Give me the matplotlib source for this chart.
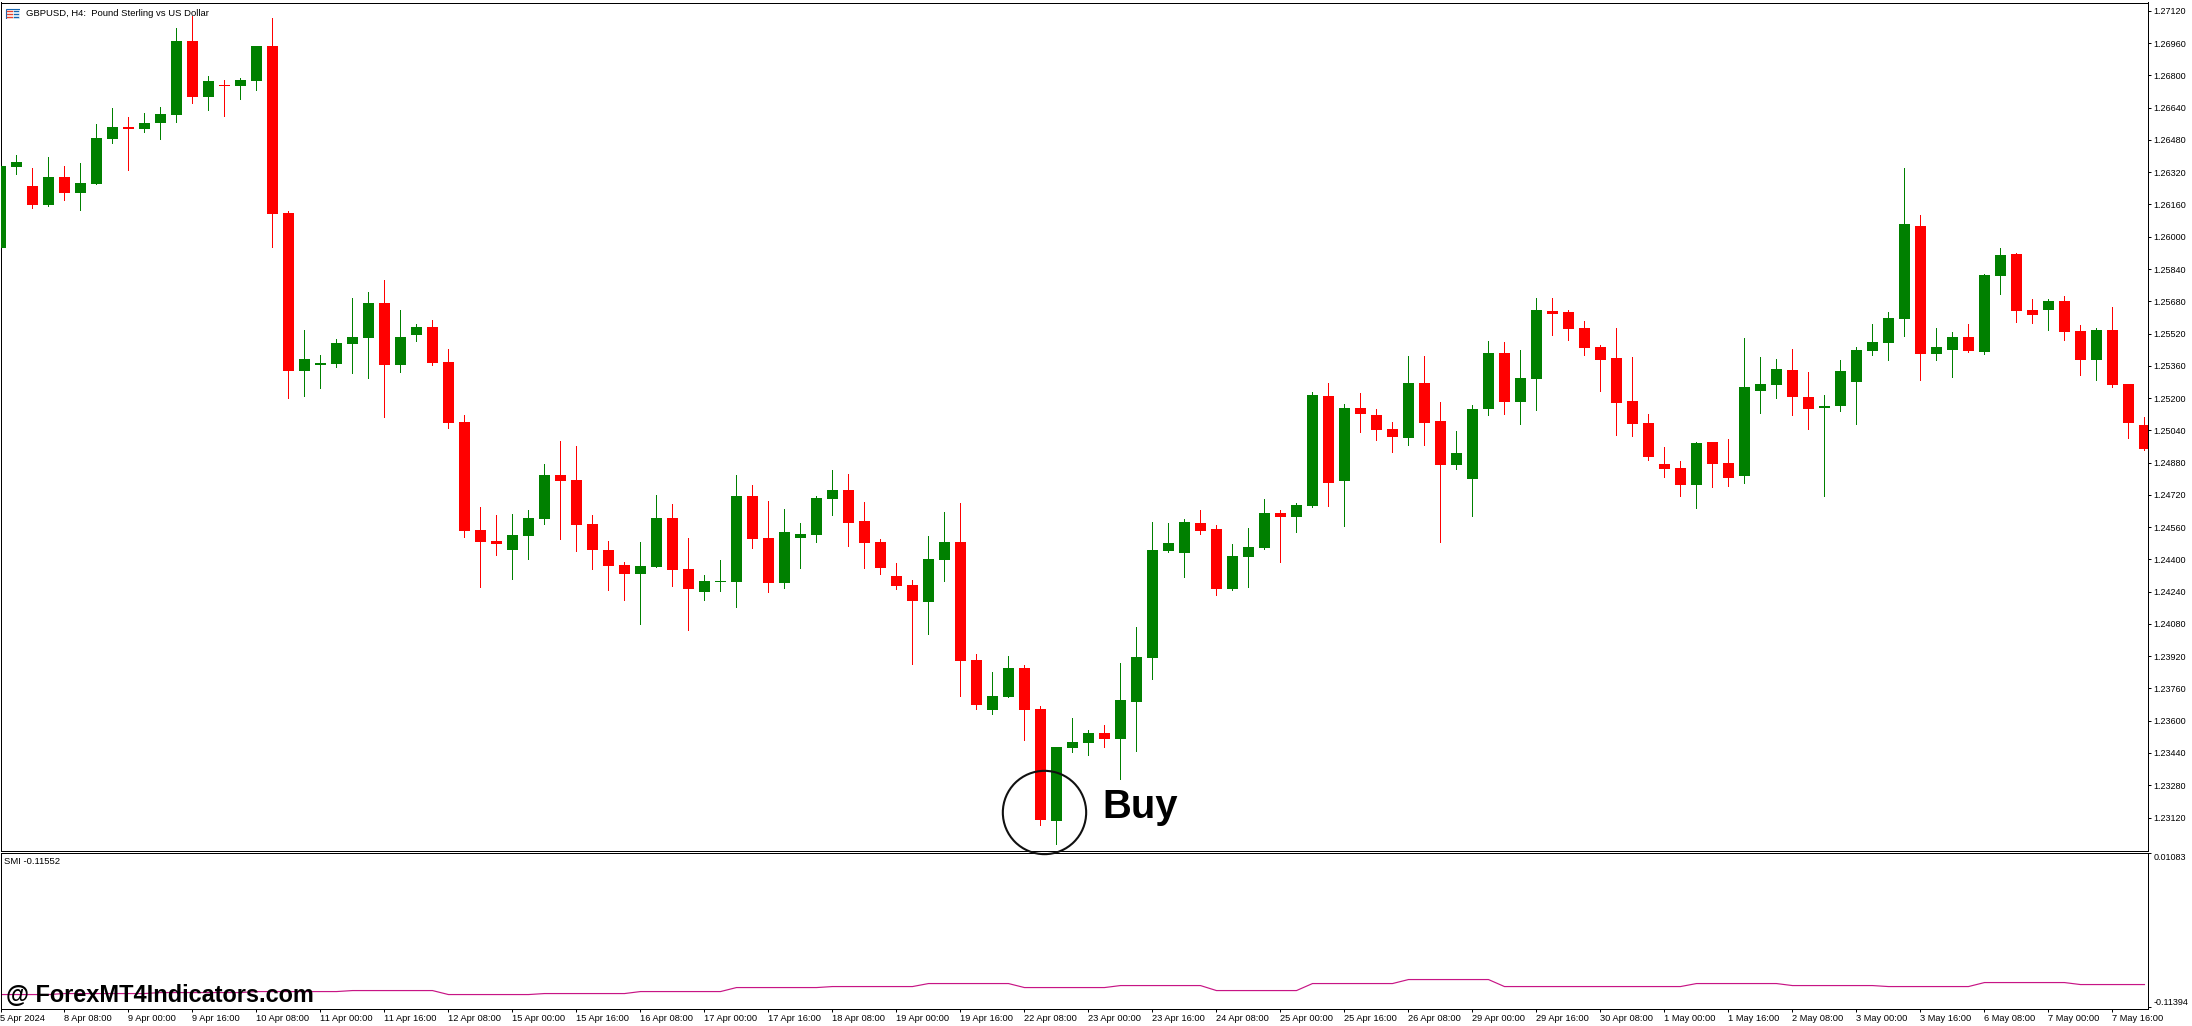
# -*- coding: utf-8 -*-
# GBPUSD H4 candles with SMI pane, MT5 style
import matplotlib
matplotlib.use('Agg')
import numpy as np
import matplotlib.pyplot as plt
from matplotlib.patches import Rectangle

plt.rcParams['font.family'] = ['Liberation Sans', 'DejaVu Sans']

opens = [
    1.25945, 1.26345, 1.26251, 1.26157, 1.26295, 1.26216, 1.26261, 1.26484, 1.26543, 1.26533,
    1.26563, 1.26603, 1.26970, 1.26692, 1.26752, 1.26747, 1.26771, 1.26945, 1.26117, 1.25334,
    1.25363, 1.25368, 1.25468, 1.25497, 1.25671, 1.25363, 1.25512, 1.25552, 1.25378, 1.25081,
    1.24546, 1.24491, 1.24446, 1.24516, 1.24600, 1.24818, 1.24794, 1.24575, 1.24446, 1.24372,
    1.24327, 1.24362, 1.24605, 1.24352, 1.24238, 1.24288, 1.24288, 1.24714, 1.24506, 1.24283,
    1.24506, 1.24521, 1.24699, 1.24744, 1.24590, 1.24486, 1.24318, 1.24273, 1.24189, 1.24397,
    1.24486, 1.23901, 1.23653, 1.23718, 1.23861, 1.23658, 1.23103, 1.23465, 1.23490, 1.23539,
    1.23509, 1.23693, 1.23911, 1.24442, 1.24432, 1.24580, 1.24551, 1.24253, 1.24412, 1.24456,
    1.24630, 1.24610, 1.24664, 1.25210, 1.24788, 1.25150, 1.25115, 1.25046, 1.25001, 1.25274,
    1.25086, 1.24868, 1.24798, 1.25145, 1.25423, 1.25180, 1.25294, 1.25631, 1.25626, 1.25547,
    1.25453, 1.25398, 1.25185, 1.25076, 1.24873, 1.24853, 1.24769, 1.24982, 1.24878, 1.24813,
    1.25235, 1.25264, 1.25339, 1.25205, 1.25150, 1.25160, 1.25279, 1.25433, 1.25473, 1.25592,
    1.26053, 1.25418, 1.25438, 1.25502, 1.25428, 1.25805, 1.25914, 1.25636, 1.25636, 1.25681,
    1.25532, 1.25388, 1.25537, 1.25269, 1.25066,
]
highs = [
    1.26350, 1.26405, 1.26340, 1.26395, 1.26350, 1.26365, 1.26558, 1.26638, 1.26593, 1.26613,
    1.26643, 1.27034, 1.27094, 1.26796, 1.26776, 1.26786, 1.26945, 1.27084, 1.26127, 1.25537,
    1.25413, 1.25492, 1.25696, 1.25725, 1.25785, 1.25636, 1.25567, 1.25587, 1.25443, 1.25115,
    1.24660, 1.24620, 1.24625, 1.24645, 1.24873, 1.24987, 1.24962, 1.24620, 1.24491, 1.24387,
    1.24486, 1.24719, 1.24675, 1.24506, 1.24323, 1.24397, 1.24818, 1.24769, 1.24689, 1.24650,
    1.24580, 1.24714, 1.24843, 1.24823, 1.24684, 1.24501, 1.24382, 1.24298, 1.24516, 1.24635,
    1.24680, 1.23931, 1.23842, 1.23921, 1.23876, 1.23673, 1.23470, 1.23614, 1.23554, 1.23579,
    1.23886, 1.24065, 1.24585, 1.24580, 1.24600, 1.24645, 1.24570, 1.24476, 1.24556, 1.24699,
    1.24645, 1.24680, 1.25229, 1.25274, 1.25170, 1.25224, 1.25145, 1.25081, 1.25408, 1.25408,
    1.25180, 1.25036, 1.25165, 1.25482, 1.25478, 1.25438, 1.25696, 1.25696, 1.25636, 1.25582,
    1.25463, 1.25547, 1.25403, 1.25121, 1.24957, 1.24888, 1.24982, 1.24982, 1.24997, 1.25497,
    1.25403, 1.25393, 1.25443, 1.25329, 1.25215, 1.25388, 1.25453, 1.25567, 1.25626, 1.26340,
    1.26107, 1.25547, 1.25527, 1.25567, 1.25815, 1.25944, 1.25919, 1.25691, 1.25691, 1.25706,
    1.25562, 1.25547, 1.25651, 1.25269, 1.25106,
]
lows = [
    1.25945, 1.26310, 1.26143, 1.26152, 1.26181, 1.26132, 1.26261, 1.26464, 1.26330, 1.26519,
    1.26484, 1.26568, 1.26662, 1.26628, 1.26598, 1.26682, 1.26727, 1.25948, 1.25200, 1.25210,
    1.25249, 1.25353, 1.25324, 1.25299, 1.25106, 1.25329, 1.25482, 1.25363, 1.25051, 1.24511,
    1.24263, 1.24422, 1.24303, 1.24402, 1.24575, 1.24501, 1.24442, 1.24352, 1.24248, 1.24199,
    1.24080, 1.24362, 1.24268, 1.24050, 1.24199, 1.24243, 1.24164, 1.24456, 1.24238, 1.24258,
    1.24357, 1.24486, 1.24620, 1.24466, 1.24357, 1.24327, 1.24253, 1.23881, 1.24030, 1.24293,
    1.23723, 1.23658, 1.23633, 1.23718, 1.23505, 1.23083, 1.22989, 1.23445, 1.23430, 1.23470,
    1.23311, 1.23450, 1.23807, 1.24437, 1.24313, 1.24526, 1.24223, 1.24248, 1.24263, 1.24451,
    1.24387, 1.24536, 1.24659, 1.24664, 1.24565, 1.25031, 1.24991, 1.24932, 1.24967, 1.24967,
    1.24486, 1.24848, 1.24615, 1.25116, 1.25121, 1.25071, 1.25140, 1.25512, 1.25487, 1.25413,
    1.25235, 1.25016, 1.25011, 1.24893, 1.24808, 1.24714, 1.24655, 1.24759, 1.24764, 1.24778,
    1.25126, 1.25200, 1.25116, 1.25046, 1.24714, 1.25135, 1.25071, 1.25413, 1.25388, 1.25507,
    1.25289, 1.25388, 1.25304, 1.25428, 1.25418, 1.25715, 1.25577, 1.25572, 1.25537, 1.25487,
    1.25314, 1.25289, 1.25254, 1.25002, 1.24942,
]
closes = [
    1.26350, 1.26370, 1.26157, 1.26295, 1.26216, 1.26266, 1.26489, 1.26543, 1.26533, 1.26563,
    1.26608, 1.26970, 1.26692, 1.26771, 1.26747, 1.26776, 1.26945, 1.26112, 1.25334, 1.25393,
    1.25373, 1.25472, 1.25502, 1.25671, 1.25363, 1.25502, 1.25552, 1.25373, 1.25076, 1.24540,
    1.24486, 1.24476, 1.24521, 1.24605, 1.24818, 1.24789, 1.24570, 1.24446, 1.24367, 1.24327,
    1.24367, 1.24605, 1.24347, 1.24253, 1.24293, 1.24293, 1.24714, 1.24501, 1.24283, 1.24536,
    1.24526, 1.24704, 1.24744, 1.24580, 1.24481, 1.24357, 1.24268, 1.24194, 1.24402, 1.24486,
    1.23896, 1.23678, 1.23723, 1.23861, 1.23653, 1.23108, 1.23470, 1.23495, 1.23539, 1.23509,
    1.23703, 1.23916, 1.24446, 1.24481, 1.24585, 1.24541, 1.24253, 1.24417, 1.24461, 1.24630,
    1.24610, 1.24670, 1.25215, 1.24778, 1.25150, 1.25120, 1.25041, 1.25006, 1.25274, 1.25076,
    1.24868, 1.24927, 1.25145, 1.25423, 1.25180, 1.25299, 1.25636, 1.25616, 1.25542, 1.25448,
    1.25388, 1.25175, 1.25071, 1.24907, 1.24848, 1.24769, 1.24977, 1.24873, 1.24803, 1.25254,
    1.25269, 1.25344, 1.25205, 1.25145, 1.25160, 1.25334, 1.25438, 1.25478, 1.25597, 1.26063,
    1.25418, 1.25453, 1.25502, 1.25433, 1.25810, 1.25909, 1.25631, 1.25611, 1.25681, 1.25527,
    1.25388, 1.25537, 1.25264, 1.25076, 1.24947,
]
smi_values = [
    -0.10392, -0.10392, -0.10392, -0.10392, -0.10311, -0.10311, -0.10311, -0.10311, -0.10311, -0.10311,
    -0.10230, -0.10230, -0.10230, -0.10230, -0.10230, -0.10230, -0.10149, -0.10149, -0.10149, -0.10149,
    -0.10149, -0.10149, -0.10068, -0.10068, -0.10068, -0.10068, -0.10068, -0.10068, -0.10392, -0.10392,
    -0.10392, -0.10392, -0.10392, -0.10392, -0.10311, -0.10311, -0.10311, -0.10311, -0.10311, -0.10311,
    -0.10149, -0.10149, -0.10149, -0.10149, -0.10149, -0.10149, -0.09824, -0.09824, -0.09824, -0.09824,
    -0.09824, -0.09824, -0.09743, -0.09743, -0.09743, -0.09743, -0.09743, -0.09743, -0.09499, -0.09499,
    -0.09499, -0.09499, -0.09499, -0.09499, -0.09824, -0.09824, -0.09824, -0.09824, -0.09824, -0.09824,
    -0.09662, -0.09662, -0.09662, -0.09662, -0.09662, -0.09662, -0.10068, -0.10068, -0.10068, -0.10068,
    -0.10068, -0.10068, -0.09499, -0.09499, -0.09499, -0.09499, -0.09499, -0.09499, -0.09174, -0.09174,
    -0.09174, -0.09174, -0.09174, -0.09174, -0.09743, -0.09743, -0.09743, -0.09743, -0.09743, -0.09743,
    -0.09743, -0.09743, -0.09743, -0.09743, -0.09743, -0.09743, -0.09499, -0.09499, -0.09499, -0.09499,
    -0.09499, -0.09499, -0.09662, -0.09662, -0.09662, -0.09662, -0.09662, -0.09662, -0.09743, -0.09743,
    -0.09743, -0.09743, -0.09743, -0.09743, -0.09418, -0.09418, -0.09418, -0.09418, -0.09418, -0.09418,
    -0.09580, -0.09580, -0.09580, -0.09580, -0.09580,
]
price_ticks = [
    1.27120, 1.26960, 1.26800, 1.26640, 1.26480, 1.26320, 1.26160, 1.26000, 1.25840,
    1.25680, 1.25520, 1.25360, 1.25200, 1.25040, 1.24880, 1.24720, 1.24560, 1.24400,
    1.24240, 1.24080, 1.23920, 1.23760, 1.23600, 1.23440, 1.23280, 1.23120,
]
smi_ticks = [0.01083, -0.11394]
time_labels = [
    '5 Apr 2024', '8 Apr 08:00', '9 Apr 00:00', '9 Apr 16:00', '10 Apr 08:00', '11 Apr 00:00',
    '11 Apr 16:00', '12 Apr 08:00', '15 Apr 00:00', '15 Apr 16:00', '16 Apr 08:00', '17 Apr 00:00',
    '17 Apr 16:00', '18 Apr 08:00', '19 Apr 00:00', '19 Apr 16:00', '22 Apr 08:00', '23 Apr 00:00',
    '23 Apr 16:00', '24 Apr 08:00', '25 Apr 00:00', '25 Apr 16:00', '26 Apr 08:00', '29 Apr 00:00',
    '29 Apr 16:00', '30 Apr 08:00', '1 May 00:00', '1 May 16:00', '2 May 08:00', '3 May 00:00',
    '3 May 16:00', '6 May 08:00', '7 May 00:00', '7 May 16:00',
]

W, H = 2192, 1026
GREEN = '#008000'
RED = '#ff0000'
PINK = '#c71585'

opens = np.array(opens)
closes = np.array(closes)
highs = np.array(highs)
lows = np.array(lows)
bars = np.arange(len(opens))
colors = [GREEN if c >= o else RED for o, c in zip(opens, closes)]

fig = plt.figure(figsize=(W / 100, H / 100), dpi=100, facecolor='white')


def pane(left, top, right, bottom):
    return fig.add_axes([left / W, 1 - bottom / H, (right - left) / W, (bottom - top) / H])


ax = pane(0.5, 2.5, 2147.5, 850.5)
ax2 = pane(0.5, 852.5, 2147.5, 1008.5)
ax.set_zorder(2)

# candles
ax.vlines(bars, lows, highs, colors=colors, linewidth=0.7, antialiased=False, zorder=2)
ax.bar(bars, np.maximum(np.abs(closes - opens), 0.00006), bottom=np.minimum(opens, closes),
       width=0.69, color=colors, linewidth=0, antialiased=False, zorder=3)

ax.set_xlim(0, 134.19)
ax.set_ylim(1.229564, 1.271616)
ax.yaxis.tick_right()
ax.set_yticks(price_ticks)
ax.set_yticklabels(['%.5f' % p for p in price_ticks])
ax.set_xticks([])
ax.tick_params(axis='y', length=2.2, width=0.72, pad=2, labelsize=6.5, colors='black')

# buy marker
ax.plot([65.24], [1.231487], marker='o', ms=60, mfc='none', mec='#111111', mew=1.5,
        clip_on=False, zorder=5)
ax.text(68.84, 1.231190, 'Buy', fontsize=28.8, fontweight='bold',
        color='black', va='baseline', ha='left', zorder=6)

# SMI pane
ax2.plot(bars, smi_values, color=PINK, linewidth=0.85, zorder=2)
ax2.set_xlim(0, 134.19)
ax2.set_ylim(-0.11524, 0.01140)
ax2.yaxis.tick_right()
ax2.set_yticks(smi_ticks)
ax2.set_yticklabels(['%.5f' % v for v in smi_ticks])
ax2.get_yticklabels()[0].set_va('top')
ax2.get_yticklabels()[1].set_va('bottom')
ax2.set_xticks(bars[::4])
ax2.set_xticklabels(time_labels, ha='left')
ax2.tick_params(axis='y', length=2.2, width=0.72, pad=2, labelsize=6.5)
ax2.tick_params(axis='x', length=2.2, width=0.72, pad=1.8, labelsize=6.7)
ax2.text(0.32, -0.10988, '@ ForexMT4Indicators.com', fontsize=16.9, fontweight='bold',
         color='black', va='baseline', ha='left', zorder=3)

for a in (ax, ax2):
    for s in a.spines.values():
        s.set_linewidth(0.72)
        s.set_color('black')

# chart headers
fig.text(25.6 / W, 1 - 13.7 / H, 'GBPUSD, H4:  Pound Sterling vs US Dollar', fontsize=6.8,
         va='center', ha='left', zorder=10)
fig.text(3.7 / W, 1 - 861.7 / H, 'SMI -0.11552', fontsize=6.8, va='center', ha='left', zorder=10)

# little symbol icon next to the title
icon = pane(5, 8, 20, 19)
icon.set_zorder(10)
icon.set_xlim(0, 15)
icon.set_ylim(11, 0)
icon.axis('off')
icon.add_patch(Rectangle((0.5, 0.5), 14, 10, facecolor='white', edgecolor='#1565b0', linewidth=0.8))
for y in (2.5, 5.5, 8.5):
    icon.plot([2, 7], [y, y], color='#e8402a', linewidth=1.0)
    icon.plot([8.5, 13], [y, y], color='#1565b0', linewidth=1.0)

fig.savefig('out.png', dpi=100, facecolor='white')
